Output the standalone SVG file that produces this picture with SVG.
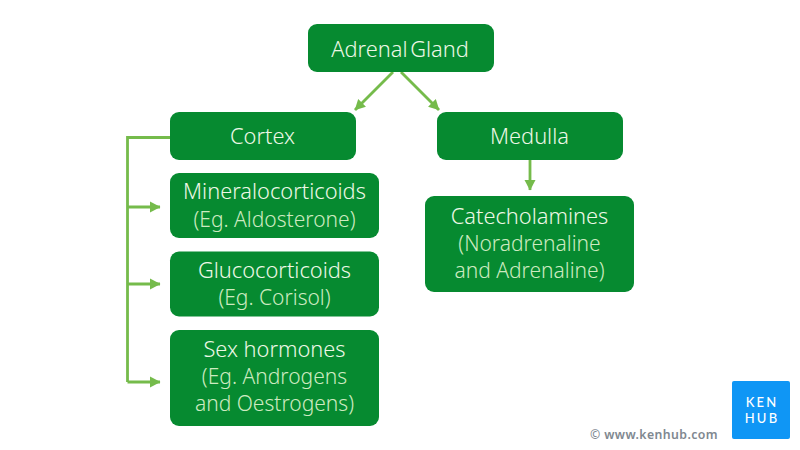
<svg xmlns="http://www.w3.org/2000/svg" width="800" height="450" viewBox="0 0 800 450">
<style>
.n{fill:#068a30}
.t{font-family:"Noto Sans","Open Sans",sans-serif;font-weight:300;font-size:21.800px;fill:#edf8e6;text-anchor:middle}
.s{fill:#cdeac0;font-size:21px}
.c{fill:none;stroke:#75bb4b;stroke-width:2.800}
.ah{fill:#75bb4b}
.l{font-family:Lato,"Liberation Sans",sans-serif;font-size:13px;font-weight:500;letter-spacing:2.200px;fill:#fff;text-anchor:middle}
</style>
<defs><marker id="a" markerUnits="userSpaceOnUse" markerWidth="14" markerHeight="14" refX="10" refY="7" orient="auto"><path class="ah" d="M0 1.500L10.500 7L0 12.500z"/></marker></defs>
<rect width="800" height="450" fill="#fff"/>
<g id="connectors">
<path class="c" marker-end="url(#a)" d="M393 72L355 110"/>
<path class="c" marker-end="url(#a)" d="M401 72L439 110"/>
<path class="c" marker-end="url(#a)" d="M530 160V190"/>
<path class="c" d="M170 137.500H127.500V382"/>
<path class="c" marker-end="url(#a)" d="M127.500 207H160"/>
<path class="c" marker-end="url(#a)" d="M127.500 284H160"/>
<path class="c" marker-end="url(#a)" d="M127.500 382H160"/>
</g>
<g id="adrenal"><rect class="n" x="308" y="24" width="186" height="48" rx="9"/><text class="t" x="400" y="57" word-spacing="-3">Adrenal Gland</text></g>
<g id="cortex"><rect class="n" x="170" y="112" width="186" height="48" rx="9"/><text class="t" x="262.500" y="144">Cortex</text></g>
<g id="medulla"><rect class="n" x="437" y="112" width="186" height="48" rx="9"/><text class="t" x="529.500" y="144">Medulla</text></g>
<g id="mineralocorticoids"><rect class="n" x="170" y="173" width="209" height="65" rx="9"/><text class="t" x="274.500" y="199">Mineralocorticoids</text><text class="t s" x="274.500" y="227">(Eg. Aldosterone)</text></g>
<g id="glucocorticoids"><rect class="n" x="170" y="251.500" width="209" height="65" rx="9"/><text class="t" x="274.500" y="278">Glucocorticoids</text><text class="t s" x="274.500" y="305">(Eg. Corisol)</text></g>
<g id="sex-hormones"><rect class="n" x="170" y="330" width="209" height="96" rx="9"/><text class="t" x="274.500" y="357">Sex hormones</text><text class="t s" x="274.500" y="384">(Eg. Androgens</text><text class="t s" x="274.500" y="411">and Oestrogens)</text></g>
<g id="catecholamines"><rect class="n" x="425" y="196" width="209" height="96" rx="9"/><text class="t" x="529.500" y="224">Catecholamines</text><text class="t s" x="529.500" y="251">(Noradrenaline</text><text class="t s" x="529.500" y="278">and Adrenaline)</text></g>
<g id="logo"><rect x="732" y="381" width="58" height="58" rx="2" fill="#0f96f5"/><text class="l" x="762" y="407">KEN</text><text class="l" x="762" y="423">HUB</text></g>
<text id="copyright" x="590" y="439" font-family="'Noto Sans',sans-serif" font-size="12.300" font-weight="600" letter-spacing=".4" fill="#808890">© www.kenhub.com</text>
</svg>
